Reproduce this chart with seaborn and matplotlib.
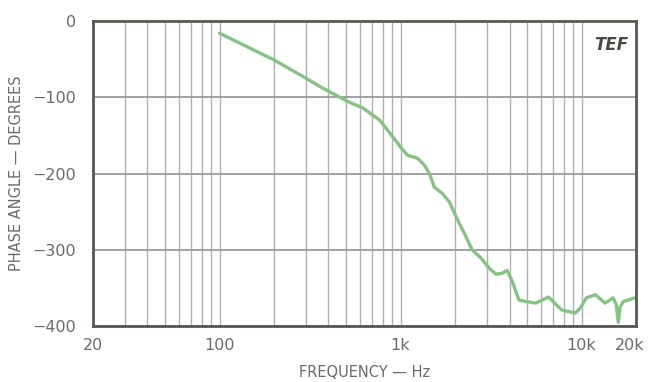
import numpy as np
import pandas as pd
import seaborn as sns
import matplotlib.pyplot as plt
import matplotlib.transforms as mtransforms
from matplotlib.ticker import FixedLocator, NullFormatter, LogLocator

# phase response
freq_hz = [100, 200, 300, 359, 505, 618, 767, 893, 1013, 1092, 1240, 1355, 1443,
           1537, 1700, 1859, 2030, 2246, 2487, 2785, 3083, 3367, 3631, 3871, 4120,
           4508, 4984, 5580, 6570, 7771, 9230, 9880, 10640, 11940, 13500, 14950,
           15560, 15950, 16350, 16990, 18080, 19760]
phase_deg = [-16, -51, -75, -86, -105, -114, -130, -150, -167, -176, -180, -189, -200,
             -218, -226, -237, -257, -278, -300, -311, -324, -332, -331, -327, -340,
             -366, -368, -370, -362, -379, -383, -376, -363, -359, -370, -363,
             -372, -395, -375, -368, -366, -363]

x_ticks = [20, 100, 1000, 10000, 20000]
x_tick_labels = ["20", "100", "1k", "10k", "20k"]
y_ticks = [0, -100, -200, -300, -400]
y_tick_labels = ["0", "\u2212100", "\u2212200", "\u2212300", "\u2212400"]

df = pd.DataFrame({"freq": freq_hz, "phase": phase_deg})

sns.set_style("white")
plt.rcParams["font.family"] = ["DejaVu Sans"]

fig = plt.figure(figsize=(6.49, 3.82), dpi=100)
ax = fig.add_axes([0.1433, 0.1466, 0.8367, 0.7984])

ax.set_xscale("log")
ax.set_xlim(20, 20000)
ax.set_ylim(-400, 0)

# grid: every log minor step vertically, every 100 degrees horizontally
ax.xaxis.set_minor_locator(LogLocator(base=10, subs=np.arange(2, 10)))
ax.xaxis.set_minor_formatter(NullFormatter())
ax.grid(which="both", axis="x", color="#b0b0b0", lw=1.0)
ax.grid(which="major", axis="y", color="#9a9a9a", lw=1.3)
ax.set_axisbelow(True)

sns.lineplot(data=df, x="freq", y="phase", ax=ax, color="#86c283", lw=2.4)

ax.xaxis.set_major_locator(FixedLocator(x_ticks))
ax.set_xticklabels(x_tick_labels)
ax.set_yticks(y_ticks)
ax.set_yticklabels(y_tick_labels)
ax.tick_params(axis="both", which="both", length=0, labelsize=11.5,
               labelcolor="#6a6a6a")
ax.tick_params(axis="x", pad=9)
ax.tick_params(axis="y", pad=12)

# nudge the last frequency label inside the figure
last = ax.get_xticklabels()[-1]
last.set_transform(last.get_transform() +
                   mtransforms.ScaledTranslation(-6 / 100, 0, fig.dpi_scale_trans))

for side in ["left", "bottom", "top", "right"]:
    ax.spines[side].set_color("#555a50")
    ax.spines[side].set_linewidth(2)

ax.set_xlabel("FREQUENCY \u2014 Hz", fontsize=10.5, color="#6a6a6a", labelpad=8)
ax.set_ylabel("PHASE ANGLE \u2014 DEGREES", fontsize=10.5, color="#6a6a6a",
              labelpad=6)

ax.text(0.985, 0.95, "TEF", transform=ax.transAxes, ha="right", va="top",
        fontsize=12, fontstyle="italic", fontweight="bold", color="#4a4a44")

plt.savefig("out.png", dpi=100)
